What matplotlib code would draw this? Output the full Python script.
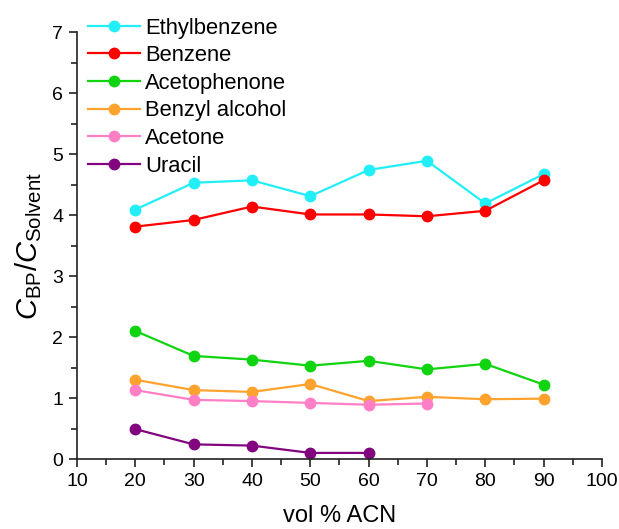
import matplotlib
matplotlib.use("Agg")
import matplotlib.pyplot as plt
from matplotlib.ticker import MultipleLocator

plt.rcParams['font.family'] = ['Liberation Sans', 'DejaVu Sans']
plt.rcParams['mathtext.fontset'] = 'custom'
plt.rcParams['mathtext.rm'] = 'Liberation Sans'
plt.rcParams['mathtext.it'] = 'Liberation Sans:italic'

# vol % ACN values and measured concentration ratios
acn = [20, 30, 40, 50, 60, 70, 80, 90]
ethylbenzene = [4.09, 4.53, 4.57, 4.31, 4.74, 4.89, 4.19, 4.67]
benzene = [3.81, 3.92, 4.14, 4.01, 4.01, 3.98, 4.07, 4.57]
acetophenone = [2.10, 1.69, 1.63, 1.53, 1.61, 1.47, 1.56, 1.22]
benzyl_alcohol = [1.30, 1.13, 1.10, 1.23, 0.95, 1.02, 0.98, 0.99]
acetone = [1.13, 0.97, 0.95, 0.92, 0.89, 0.91]
uracil = [0.49, 0.24, 0.22, 0.10, 0.10]

series = [
    ("Ethylbenzene", ethylbenzene, "#22EEF8"),
    ("Benzene", benzene, "#FF0000"),
    ("Acetophenone", acetophenone, "#11D411"),
    ("Benzyl alcohol", benzyl_alcohol, "#FFA22E"),
    ("Acetone", acetone, "#FF7FC6"),
    ("Uracil", uracil, "#82047E"),
]

fig = plt.figure(figsize=(6.19, 5.29), dpi=100)
ax = fig.add_axes([0.1244, 0.1323, 0.848, 0.807])

for name, vals, col in series:
    ax.plot(acn[:len(vals)], vals, color=col, lw=1.6, marker='o', ms=7.5,
            label=name, clip_on=False)

ax.set_xlim(10, 100)
ax.set_ylim(0, 7)
ax.xaxis.set_major_locator(MultipleLocator(10))
ax.xaxis.set_minor_locator(MultipleLocator(5))
ax.yaxis.set_major_locator(MultipleLocator(1))
ax.yaxis.set_minor_locator(MultipleLocator(0.5))

for s in ['top', 'right']:
    ax.spines[s].set_visible(False)
for s in ['left', 'bottom']:
    ax.spines[s].set_linewidth(1.2)
    ax.spines[s].set_color('#222222')

ax.tick_params(which='major', direction='out', length=6, width=1.2,
               labelsize=14, color='#222222', pad=4)
ax.tick_params(which='minor', direction='out', length=4, width=1.2,
               color='#222222')

ax.set_xlabel('vol % ACN', fontsize=17, labelpad=11)
ax.set_ylabel(r'$C_{\mathrm{BP}}/C_{\mathrm{Solvent}}$', fontsize=21, labelpad=6)

ax.legend(loc='upper left', bbox_to_anchor=(-0.008, 1.07), frameon=False,
          fontsize=15.8, handlelength=2.35, handletextpad=0.25,
          labelspacing=0.3, borderaxespad=0.3)

fig.savefig('out.png', dpi=100)
